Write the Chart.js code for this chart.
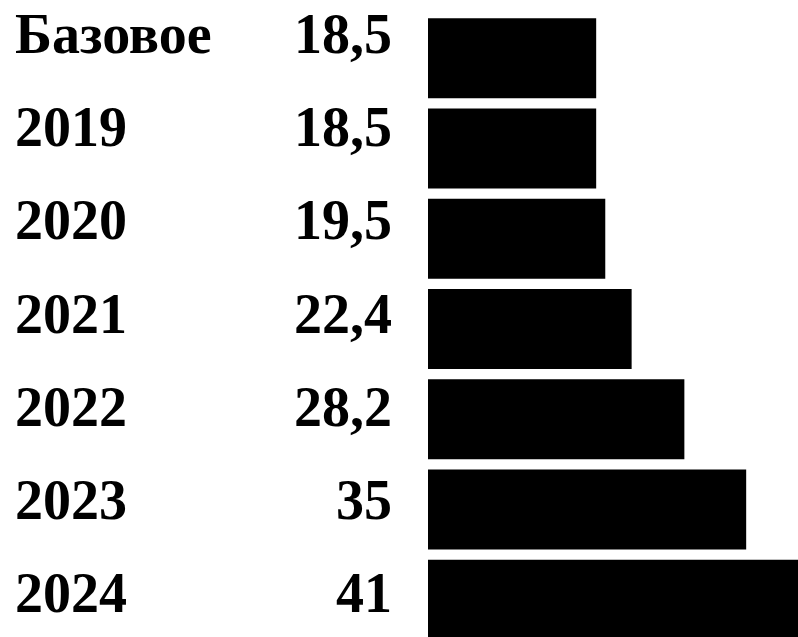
<!DOCTYPE html>
<html>
<head>
<meta charset="utf-8">
<script src="https://cdn.jsdelivr.net/npm/chart.js@4/dist/chart.umd.min.js"></script>
<style>
  html, body { margin: 0; padding: 0; background: #fff; overflow: hidden; }
  #wrap { width: 798px; height: 650px; }
</style>
</head>
<body>
<div id="wrap"><canvas id="chart"></canvas></div>
<script>
const categories = ["Базовое", "2019", "2020", "2021", "2022", "2023", "2024"]
const values = [18.5, 18.5, 19.5, 22.4, 28.2, 35, 41]
const valueLabels = values.map((v) => String(v).replace(".", ","))

// row captions + numbers on the left, placed through a hidden "rows" scale
const rowLabels = {
  id: "rowLabels",
  afterDatasetsDraw(chart) {
    const ctx = chart.ctx
    const rows = chart.scales.rows
    ctx.save()
    ctx.fillStyle = "#000"
    ctx.font = "bold 56px 'Liberation Serif', 'Times New Roman', serif"
    ctx.textBaseline = "alphabetic"
    categories.forEach((cat, i) => {
      const y = rows.getPixelForValue(i)
      ctx.textAlign = "left"
      ctx.fillText(cat, 15, y)
      ctx.textAlign = "right"
      ctx.fillText(valueLabels[i], 392, y)
    })
    ctx.restore()
  },
}

const ctx = document.getElementById("chart").getContext("2d")

new Chart(ctx, {
  type: "bar",
  data: {
    labels: categories,
    datasets: [
      {
        data: values,
        backgroundColor: "#000",
        borderWidth: 0,
        barPercentage: 0.886,
        categoryPercentage: 1,
      },
    ],
  },
  options: {
    indexAxis: "y",
    responsive: true,
    maintainAspectRatio: false,
    animation: false,
    layout: {
      padding: { left: 428, right: 0, top: 13, bottom: 5 },
    },
    scales: {
      x: { display: false, min: 0, max: 40.7 },
      y: { display: false },
      rows: {
        type: "linear",
        axis: "y",
        display: false,
        reverse: true,
        offset: false,
        min: -0.429,
        max: 6.352,
      },
    },
    plugins: {
      legend: { display: false },
      tooltip: { enabled: false },
    },
  },
  plugins: [rowLabels],
})
</script>
</body>
</html>
